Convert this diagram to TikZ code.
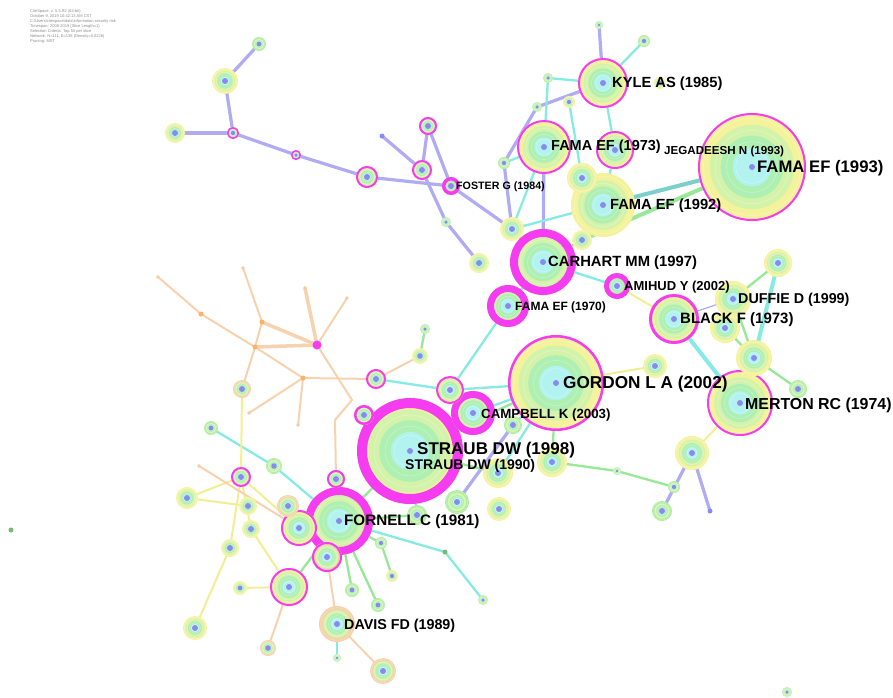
\documentclass[tikz,border=0pt]{standalone}
\usepackage{fontspec}
\setmainfont{Liberation Sans}
\usepackage{tikz}

\definecolor{ringyel}{HTML}{F5F29C}
\definecolor{ringgrn}{HTML}{A8EE9E}
\definecolor{ringorg}{HTML}{F6D0A8}
\definecolor{ringa}{HTML}{D4F3AA}
\definecolor{ringb}{HTML}{AEEFB2}
\definecolor{ringc}{HTML}{B2F3F0}
\definecolor{corecol}{HTML}{8A8AEE}
\definecolor{hotpink}{HTML}{F53CF0}
\definecolor{linkpur}{HTML}{B0ABF2}
\definecolor{linkcya}{HTML}{86EBE2}
\definecolor{linkgrn}{HTML}{97E897}
\definecolor{linkyel}{HTML}{F2EF92}
\definecolor{linkorg}{HTML}{F7D2AE}
\definecolor{linkteal}{HTML}{7CCFCB}

% one cited reference: rings of citation years, pink rim for centrality
\newcommand{\citenode}[4]{%
  \fill[#4] (#1) circle (#2pt);
  \foreach \f/\k in {0.78/ringa, 0.58/ringb, 0.36/ringc}
    \fill[\k] (#1) circle ({\f*#2pt});
  \foreach \f in {0.3,0.47,0.68,0.9}
    \draw[white, opacity=0.35, line width=0.5pt] (#1) circle ({\f*#2pt});
  \fill[nodecore] (#1) circle ({min(3,0.35*#2)*1pt});
  \ifdim #3pt>0pt \draw[hotpink, line width=#3pt] (#1) circle ({#2pt-0.5*#3pt}); \fi
}

\begin{document}
\begin{tikzpicture}[x=1pt, y=-1pt]
  \tikzstyle{yel}=[fill=ringyel]
  \tikzstyle{grn}=[fill=ringgrn]
  \tikzstyle{org}=[fill=ringorg]
  \tikzstyle{nodecore}=[fill=corecol]
  \tikzstyle{purplink}=[draw=linkpur, line width=3.2pt, line cap=round]
  \tikzstyle{cyanlink}=[draw=linkcya, line width=2.3pt, line cap=round]
  \tikzstyle{greenlink}=[draw=linkgrn, line width=2.3pt, line cap=round]
  \tikzstyle{yellowlink}=[draw=linkyel, line width=2pt, line cap=round]
  \tikzstyle{orangelink}=[draw=linkorg, line width=2pt, line cap=round]
  \tikzstyle{label}=[anchor=west, inner sep=0pt, font=\bfseries]

  \fill[white] (0,0) rectangle (893,697);
  \useasboundingbox (0,0) rectangle (893,697);

  \node[anchor=north west, align=left, inner sep=0pt, text=black!45,
        font=\fontsize{4}{5}\selectfont] (hdr) at (30,9)
    {CiteSpace, v. 5.5.R2 (64-bit)\\
     October 9, 2019 10:42:13 AM CST\\
     C:\textbackslash Users\textbackslash citespace\textbackslash data\textbackslash information security risk\\
     Timespan: 2008-2019 (Slice Length=1)\\
     Selection Criteria: Top 50 per slice\\
     Network: N=111, E=138 (Density=0.0226)\\
     Pruning: MST};

  % positions of the references
  \foreach \n/\x/\y in {pa/259/44, pb/225/81, pc/175/133, pd/233/133, pe/296/155,
      pf/367/177, pg/382/136, ph/428/126, pi/422/170, foster/451/186, pj/446/222,
      pk/479/263, ta/599/25, tb/644/41, tc/548/78, td/537/107, te/569/102,
      tf/660/83, kyle/603/83, fama73/544/147, jeg/615/150, fama93/752/167,
      tg/504/163, th/582/178, fama92/603/205, ti/512/229, tj/582/240,
      carhart/543/262, amihud/617/286, fama70/508/306}
    \coordinate (\n) at (\x,\y);
  \foreach \n/\x/\y in {ra/778/263, duffie/733/299, black/674/319, rb/725/328,
      rc/754/358, rd/798/389, re/655/366, gordon/556/383, merton/740/403,
      rf/692/453, rg/617/471, rh/674/487, ri/662/511, rj/710/511,
      straub/410/451, campbell/473/413, ma/450/390, mb/376/379, mc/364/415,
      md/498/473, me/552/462, mf/457/502, mg/499/509, mh/417/515, mi/420/356,
      mj/425/329, ml/513/425}
    \coordinate (\n) at (\x,\y);
  \foreach \n/\x/\y in {fornell/339/521, la/211/428, lb/274/466, lc/241/477,
      ld/187/498, le/248/506, lf/288/506, lg/299/528, lh/251/529, li/336/479,
      lj/230/548, lk/327/557, ll/289/587, lm/240/588, ln/381/543, lo/392/576,
      lp/352/590, lq/378/605, davis/337/624, lr/195/628, ls/268/648, lt/337/658,
      lu/383/671, lv/11/530, lw/445/552, lx/483/600, ly/787/692,
      oa/158/277, ob/201/314, oc/243/268, od/262/322, oe/255/347, of/317/345,
      og/305/288, oh/347/298, oi/303/378, oj/242/389, ok/249/413, ol/298/425,
      om/352/400, on/335/420, op/199/466}
    \coordinate (\n) at (\x,\y);

  % co-citation links
  \foreach \a/\b in {pa/pb, pb/pd, pc/pd, pd/pe, pe/pf, pf/foster, pg/pi, pi/ph,
      ph/foster, pi/pj, pj/pk, foster/ti, ti/carhart, td/tg, tg/ti, td/kyle,
      kyle/ta, fama73/carhart, ml/mf, rf/ri, rf/rj}
    \draw[purplink] (\a) -- (\b);
  \draw[purplink, line width=1.2pt] (black) -- (duffie);
  \foreach \a/\b in {kyle/tb, kyle/tc, tc/fama73, kyle/jeg, jeg/fama92, fama73/tg,
      fama92/ti, carhart/fama70, carhart/amihud, fama70/ma, mb/ma, ma/gordon,
      gordon/campbell, straub/mh, la/lb, lb/fornell, fornell/lw, lw/lx,
      gordon/md, ml/gordon, fama73/ti, davis/lt, te/th}
    \draw[cyanlink] (\a) -- (\b);
  \draw[cyanlink, line width=4pt] (black) -- (merton);
  \draw[cyanlink, line width=4pt] (ra) -- (rc);
  \draw[draw=linkteal, line width=4pt] (fama93) -- (fama92);
  \draw[greenlink, line width=4pt] (fama93) -- (tj);
  \foreach \a/\b in {ra/duffie, duffie/rc, rc/rd, rc/merton, rb/rc, me/rg, rg/rh,
      mj/mi, gordon/straub, fornell/ll, fornell/ln, fornell/lp, fornell/lq,
      fornell/lg, fornell/lk, ln/lo, gordon/me, straub/md, carhart/tj,
      straub/mc, straub/fornell, fornell/mh}
    \draw[greenlink] (\a) -- (\b);
  \foreach \a/\b in {oj/lc, lc/lj, ld/le, ld/lc, lc/lh, lj/lr, ll/lm, lh/ll,
      amihud/black, gordon/re, merton/rf, lc/lg}
    \draw[yellowlink] (\a) -- (\b);
  \foreach \a/\b in {oa/ob, ob/oe, oc/od, od/oe, oh/of, oe/oi, oi/mb, oi/ok,
      oi/ol, oe/oj, of/om, om/on, on/li, mb/mi, op/lg, lg/lf, ll/ls, davis/lu,
      lk/davis}
    \draw[orangelink] (\a) -- (\b);
  \foreach \a/\b in {od/of, oe/of, og/of}
    \draw[orangelink, line width=3.5pt] (\a) -- (\b);

  % the references, largest first
  \foreach \n/\r/\w/\c in {fama93/54/2/yel, straub/53/10/yel, gordon/48/2.5/yel,
      fornell/34/8/yel, carhart/33/8/yel, merton/33/2/yel, fama92/32/0/yel,
      fama73/27/2/yel, kyle/25/2/yel, black/25/3/yel, campbell/22/7/grn,
      fama70/21/7/yel, jeg/19/2/yel, ll/19/2/yel, duffie/18/0/yel, rc/18/0/yel,
      lg/18/2/yel, davis/18/0/org, rf/17/0/yel, th/15/0/yel, rb/15/0/yel,
      md/15/0/yel, me/15/0/yel, lk/15/2/org, ra/14/0/yel, ma/14/2/yel,
      amihud/13/5/grn, lu/13/0/org, pb/13/0/yel, ti/12/0/yel, re/12/0/yel,
      mf/12/0/grn, mg/12/0/yel, lr/12/0/yel, pf/11/2/yel, ld/11/0/yel,
      lf/11/0/org, tj/10/0/yel, pi/10/2/yel, pk/10/0/yel, pc/10/0/yel,
      mb/10/2/yel, mc/10/2.5/yel, mh/10/0/grn, lc/10/2/yel, ri/10/0/grn}
    \citenode{\n}{\r}{\w}{\c};
  \foreach \n/\r/\w/\c in {ml/9/0/grn, foster/9/3.5/grn, ph/9/2/grn, rd/9/0/grn,
      li/9/2/grn, le/9/0/yel, lh/9/0/yel, lj/9/0/yel, oj/9/0/org, mi/8/0/yel,
      lb/8/0/grn, ls/8/0/org, pa/7/0/grn, la/7/0/grn, lm/7/0/yel, lp/7/0/grn,
      lq/7/0/grn, tb/6/0/grn, te/6/0/yel, tf/6/0/yel, tg/6/0/grn,
      pd/6/1.5/grn, rh/6/0/grn, ln/6/0/grn, lo/6/0/yel, pe/5/1.5/grn,
      pj/5/0/grn, tc/5/0/grn, td/5/0/grn, mj/5/0/grn, lx/5/0/grn, ly/5/0/grn,
      ta/4/0/grn, rg/4/0/grn, lt/4/0/grn}
    \citenode{\n}{\r}{\w}{\c};

  % bare ends of the links
  \foreach \n in {pg, rj} \fill[linkpur!80!blue] (\n) circle (2.5pt);
  \foreach \n in {lv, lw} \fill[linkgrn!80!black] (\n) circle (2.5pt);
  \foreach \n in {ob, od, oe, oi} \fill[orange!60] (\n) circle (2.5pt);
  \foreach \n in {oa, oc, og, oh, ok, ol, op} \fill[linkorg!90!orange] (\n) circle (1.8pt);
  \fill[hotpink] (of) circle (4.5pt);

  % labels
  \node[label, font=\bfseries\fontsize{14.7}{15}\selectfont] (lkyle) at (612,84) {KYLE AS (1985)};
  \node[label, font=\bfseries\fontsize{14.5}{15}\selectfont] (lfama73) at (551,147) {FAMA EF (1973)};
  \node[label, font=\bfseries\fontsize{11.6}{12}\selectfont] (ljeg) at (664,151) {JEGADEESH N (1993)};
  \node[label, font=\bfseries\fontsize{16.7}{17}\selectfont] (lfama93) at (757,168) {FAMA EF (1993)};
  \node[label, font=\bfseries\fontsize{14.7}{15}\selectfont] (lfama92) at (610,206) {FAMA EF (1992)};
  \node[label, font=\bfseries\fontsize{10.7}{11}\selectfont] (lfoster) at (456,187) {FOSTER G (1984)};
  \node[label, font=\bfseries\fontsize{14.8}{15}\selectfont] (lcarhart) at (548,263) {CARHART MM (1997)};
  \node[label, font=\bfseries\fontsize{13}{13}\selectfont] (lamihud) at (624,287) {AMIHUD Y (2002)};
  \node[label, font=\bfseries\fontsize{12}{12}\selectfont] (lfama70) at (515,307) {FAMA EF (1970)};
  \node[label, font=\bfseries\fontsize{14.3}{15}\selectfont] (lduffie) at (738,300) {DUFFIE D (1999)};
  \node[label, font=\bfseries\fontsize{15}{15}\selectfont] (lblack) at (680,320) {BLACK F (1973)};
  \node[label, font=\bfseries\fontsize{17.2}{18}\selectfont] (lgordon) at (563,384) {GORDON L A (2002)};
  \node[label, font=\bfseries\fontsize{15.9}{16}\selectfont] (lmerton) at (745,405) {MERTON RC (1974)};
  \node[label, font=\bfseries\fontsize{13.3}{14}\selectfont] (lcampbell) at (481,415) {CAMPBELL K (2003)};
  \node[label, font=\bfseries\fontsize{17}{17}\selectfont] (lstraub) at (417,450) {STRAUB DW (1998)};
  \node[label, font=\bfseries\fontsize{14}{14}\selectfont] (lstraubb) at (405,466) {STRAUB DW (1990)};
  \node[label, font=\bfseries\fontsize{15.2}{15}\selectfont] (lfornell) at (344,522) {FORNELL C (1981)};
  \node[label, font=\bfseries\fontsize{14.3}{15}\selectfont] (ldavis) at (344,626) {DAVIS FD (1989)};
\end{tikzpicture}
\end{document}
